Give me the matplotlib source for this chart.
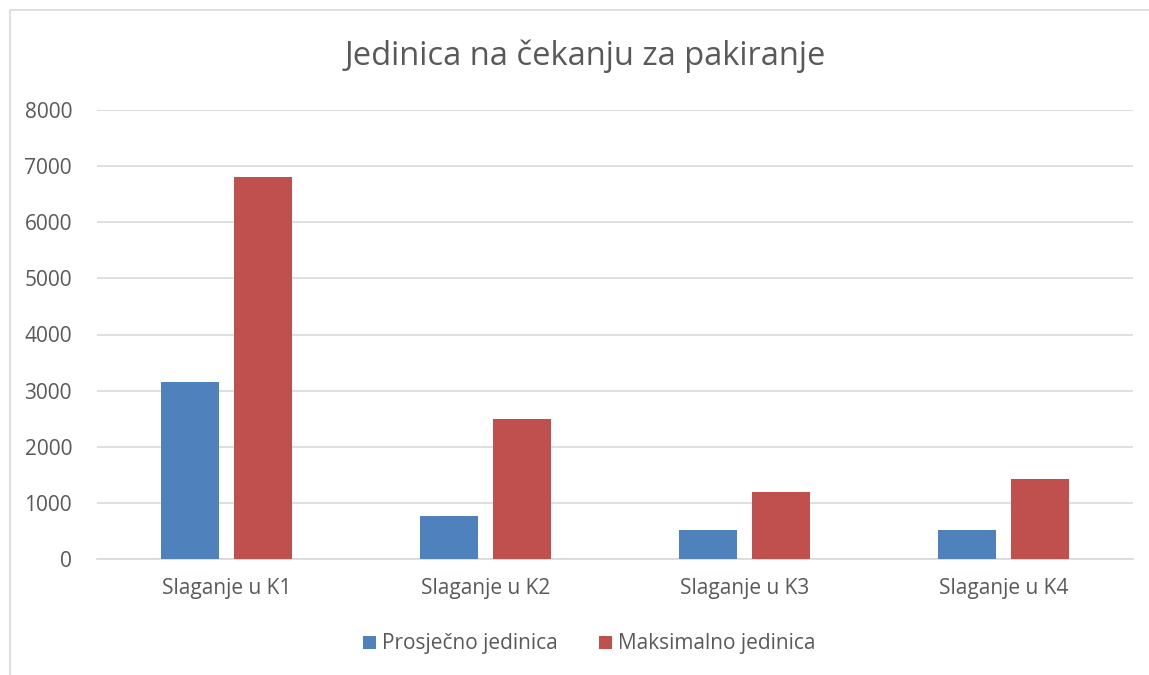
import numpy as np
import matplotlib.pyplot as plt
from matplotlib.patches import Rectangle

# Podaci
kategorije = ['Slaganje u K1', 'Slaganje u K2', 'Slaganje u K3', 'Slaganje u K4']
prosjecno = [3150, 770, 520, 520]
maksimalno = [6800, 2500, 1200, 1430]

plt.rcParams['font.family'] = ['Open Sans', 'DejaVu Sans']

fig = plt.figure(figsize=(11.49, 6.75), dpi=100)
ax = fig.add_axes([97 / 1149, 1 - 559 / 675, 1036 / 1149, 449 / 675])

# okvir oko grafikona
fig.patches.append(Rectangle((10 / 1149, -0.1), 1.2, 1 - 10 / 675 + 0.1,
                             transform=fig.transFigure, fill=False,
                             edgecolor='#d9d9d9', linewidth=1.2))

x = np.arange(len(kategorije))
w = 0.225
ax.bar(x - 0.142, prosjecno, w, color='#4f81bd', label='Prosječno jedinica', zorder=3)
ax.bar(x + 0.142, maksimalno, w, color='#c0504d', label='Maksimalno jedinica', zorder=3)

ax.set_xlim(-0.5, 3.5)
ax.set_ylim(0, 8000)
ax.set_yticks(range(0, 8001, 1000))
ax.set_xticks(x)
ax.set_xticklabels(kategorije)
ax.grid(axis='y', color='#d9d9d9', linewidth=1.2, zorder=0)
for s in ['top', 'right', 'left']:
    ax.spines[s].set_visible(False)
ax.spines['bottom'].set_color('#d9d9d9')
ax.spines['bottom'].set_linewidth(1.2)
ax.tick_params(axis='both', length=0, labelsize=15, colors='#595959')
ax.tick_params(axis='x', pad=14)
ax.tick_params(axis='y', pad=18)

fig.text(0.509, 1 - 56 / 675, 'Jedinica na čekanju za pakiranje', ha='center', va='center',
         fontsize=23.5, color='#595959')

fig.legend(loc='center', bbox_to_anchor=(0.513, 1 - 644 / 675), ncol=2, frameon=False,
           fontsize=15, labelcolor='#595959', handlelength=0.6, handleheight=0.6,
           handletextpad=0.3, columnspacing=2.0)

fig.savefig('out.png', dpi=100)
